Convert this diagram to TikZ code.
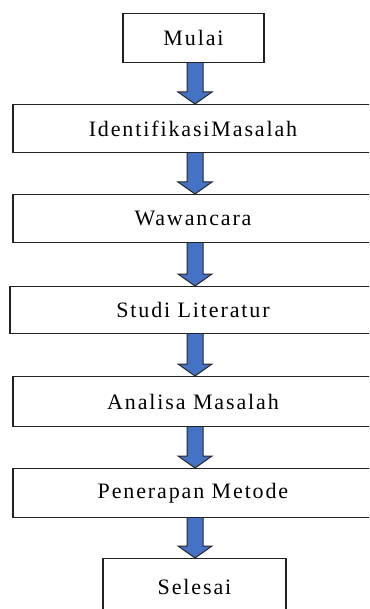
\documentclass[tikz,border=0pt]{standalone}
\usepackage{fontspec}
\setmainfont{Liberation Serif}[LetterSpace=8.5,Ligatures=NoCommon]
\usetikzlibrary{calc}
\definecolor{arrblue}{HTML}{4472C4}
\definecolor{edge}{HTML}{222222}
\tikzset{
  stepbox/.style={draw=edge, line width=1.2pt, fill=white, rectangle, inner sep=0pt, anchor=north, font=\fontsize{22}{26}\selectfont},
  barr/.style={fill=arrblue, draw=black!85, line width=1pt, line join=miter}
}
\newcommand{\barrow}[2]{%
  \draw[barr] let \p1=(#1.south), \p2=(#2.north) in
    (187pt,\y1) -- (187pt,\y2+12pt) -- (178pt,\y2+12pt) -- (195pt,\y2) --
    (212pt,\y2+12pt) -- (203pt,\y2+12pt) -- (203pt,\y1);}
\begin{document}
\begin{tikzpicture}[x=1pt,y=1pt]
\useasboundingbox (0,0) rectangle (369,-609);
\clip (0,0) rectangle (369,-609);
\fill[white] (0,0) rectangle (369,-609);
\node[stepbox, minimum width=141pt, minimum height=49pt] (mulai) at (193.5,-13) {Mulai};
\node[stepbox, minimum width=360pt, minimum height=48pt] (ident) at (193,-104) {IdentifikasiMasalah};
\node[stepbox, minimum width=360pt, minimum height=48pt] (wawan) at (193,-194) {Wawancara};
\node[stepbox, minimum width=366pt, minimum height=47pt] (studi) at (193,-286) {Studi Literatur};
\node[stepbox, minimum width=360pt, minimum height=50pt] (analisa) at (193,-376) {Analisa Masalah};
\node[stepbox, minimum width=360pt, minimum height=49pt] (pener) at (193,-468) {Penerapan Metode};
\node[stepbox, minimum width=183pt, minimum height=56pt] (selesai) at (194.5,-558) {Selesai};
\barrow{mulai}{ident}
\barrow{ident}{wawan}
\barrow{wawan}{studi}
\barrow{studi}{analisa}
\barrow{analisa}{pener}
\barrow{pener}{selesai}
\end{tikzpicture}
\end{document}
